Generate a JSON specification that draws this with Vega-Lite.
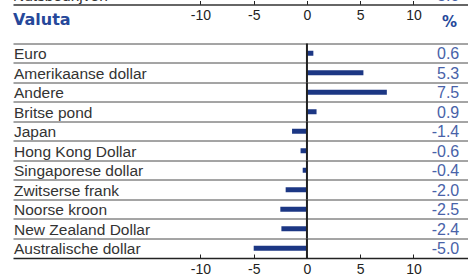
{
  "$schema": "https://vega.github.io/schema/vega-lite/v6.json",
  "width": 455,
  "height": 253.5,
  "autosize": "none",
  "padding": {"left": 13, "top": 4.5, "right": 0, "bottom": 19},
  "config": {
    "view": {"stroke": null},
    "locale": {"number": {"decimal": ".", "thousands": ",", "grouping": [3], "currency": ["", ""], "minus": "-"}},
    "axisY": {"grid": true, "bandPosition": 0, "domain": false, "ticks": false, "labels": false, "title": null, "gridColor": "#4a4a4a", "gridWidth": 1}
  },
  "data": {
    "values": [
      {"valuta": "Euro", "pct": 0.6},
      {"valuta": "Amerikaanse dollar", "pct": 5.3},
      {"valuta": "Andere", "pct": 7.5},
      {"valuta": "Britse pond", "pct": 0.9},
      {"valuta": "Japan", "pct": -1.4},
      {"valuta": "Hong Kong Dollar", "pct": -0.6},
      {"valuta": "Singaporese dollar", "pct": -0.4},
      {"valuta": "Zwitserse frank", "pct": -2.0},
      {"valuta": "Noorse kroon", "pct": -2.5},
      {"valuta": "New Zealand Dollar", "pct": -2.4},
      {"valuta": "Australische dollar", "pct": -5.0}
    ]
  },
  "resolve": {"axis": {"x": "independent"}},
  "layer": [
    {
      "mark": {"type": "bar", "size": 5, "color": "#1c3784"},
      "encoding": {
        "y": {
          "field": "valuta", "type": "nominal", "sort": null,
          "scale": {"domain": ["Euro", "Amerikaanse dollar", "Andere", "Britse pond", "Japan", "Hong Kong Dollar", "Singaporese dollar", "Zwitserse frank", "Noorse kroon", "New Zealand Dollar", "Australische dollar"], "paddingInner": 0, "paddingOuter": 1.046, "align": 1}
        },
        "x": {
          "field": "pct", "type": "quantitative",
          "scale": {"domain": [-27.6, 15.12], "nice": false, "zero": false},
          "axis": {"orient": "bottom", "values": [-10, -5, 0, 5, 10], "title": null, "grid": false, "tickSize": -4, "labelPadding": 8.5, "domainColor": "#222", "tickColor": "#222", "domainWidth": 1.5, "labelFont": "Liberation Sans", "labelFontSize": 14, "labelColor": "#222", "format": "d"}
        }
      }
    },
    {
      "mark": {"type": "rect", "stroke": "#222", "strokeWidth": 2, "fill": null},
      "encoding": {
        "y": {"field": "valuta", "type": "nominal", "sort": null},
        "x": {"datum": 0, "type": "quantitative",
          "axis": {"orient": "top", "values": [-10, -5, 0, 5, 10], "title": null, "grid": false, "tickSize": 4, "labelPadding": -14.5, "labelBaseline": "middle", "domainColor": "#333", "tickColor": "#222", "domainWidth": 1.5, "labelFont": "Liberation Sans", "labelFontSize": 14, "labelColor": "#222", "format": "d"}},
        "x2": {"datum": 0}
      }
    },
    {
      "mark": {"type": "text", "align": "left", "baseline": "middle", "dx": 1, "dy": 1, "font": "Liberation Sans", "fontSize": 15.5, "color": "#333"},
      "encoding": {
        "y": {"field": "valuta", "type": "nominal", "sort": null},
        "x": {"datum": -27.6, "type": "quantitative", "axis": null},
        "text": {"field": "valuta"}
      }
    },
    {
      "mark": {"type": "text", "align": "right", "baseline": "middle", "dy": 1, "font": "Liberation Sans", "fontSize": 16, "color": "#4862a8"},
      "encoding": {
        "y": {"field": "valuta", "type": "nominal", "sort": null},
        "x": {"datum": 14.3, "type": "quantitative", "axis": null},
        "text": {"field": "pct", "type": "quantitative", "format": ".1f"}
      }
    },
    {
      "data": {"values": [{"t": "Valuta"}]},
      "mark": {"type": "text", "align": "left", "baseline": "middle", "dy": -33.5, "font": "DejaVu Sans", "fontWeight": "bold", "fontSize": 16, "color": "#26489a"},
      "encoding": {
        "y": {"datum": "Euro", "type": "nominal"},
        "x": {"datum": -27.6, "type": "quantitative", "axis": null},
        "text": {"field": "t"}
      }
    },
    {
      "data": {"values": [{"t": "%"}]},
      "mark": {"type": "text", "align": "right", "baseline": "middle", "dy": -31.5, "font": "DejaVu Sans", "fontWeight": "bold", "fontSize": 15, "color": "#26489a"},
      "encoding": {
        "y": {"datum": "Euro", "type": "nominal"},
        "x": {"datum": 14.1, "type": "quantitative", "axis": null},
        "text": {"field": "t"}
      }
    },
    {
      "data": {"values": [{"t": "Nutsbedrijven"}]},
      "mark": {"type": "text", "align": "left", "baseline": "alphabetic", "dy": -51.8, "font": "Liberation Sans", "fontSize": 15.5, "color": "#333"},
      "encoding": {
        "y": {"datum": "Euro", "type": "nominal"},
        "x": {"datum": -27.6, "type": "quantitative", "axis": null},
        "text": {"field": "t"}
      }
    },
    {
      "data": {"values": [{"t": "3.6"}]},
      "mark": {"type": "text", "align": "right", "baseline": "alphabetic", "dy": -51.8, "font": "Liberation Sans", "fontSize": 16, "color": "#4862a8"},
      "encoding": {
        "y": {"datum": "Euro", "type": "nominal"},
        "x": {"datum": 14.3, "type": "quantitative", "axis": null},
        "text": {"field": "t"}
      }
    }
  ]
}
